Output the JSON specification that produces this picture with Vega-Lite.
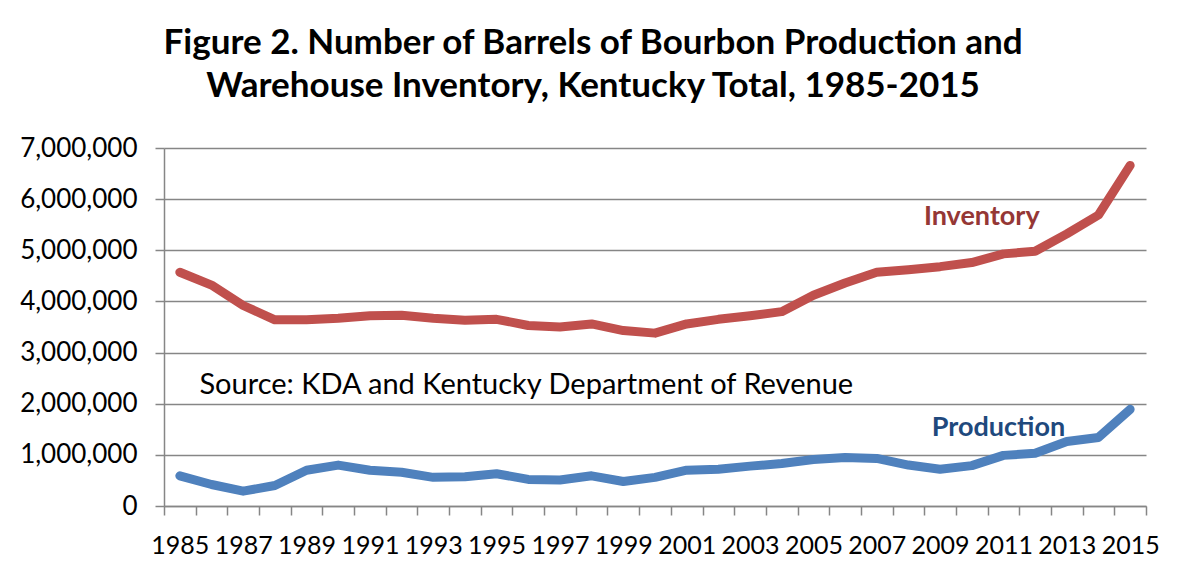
{
  "$schema": "https://vega.github.io/schema/vega-lite/v6.json",
  "autosize": "none",
  "width": 982,
  "height": 358,
  "padding": {"left": 164, "top": 148, "right": 39, "bottom": 71},
  "background": "white",
  "config": {"view": {"stroke": null}, "font": "Lato"},
  "title": {
    "text": ["Figure 2. Number of Barrels of Bourbon Production and", "Warehouse Inventory, Kentucky Total, 1985-2015"],
    "font": "Lato", "fontWeight": "bold", "fontSize": 35, "lineHeight": 43, "color": "#000000",
    "anchor": "middle", "frame": "group", "dx": -62, "offset": 31
  },
  "layer": [
    {
      "data": {"values": [
        {"year": 1985, "series": "Inventory", "value": 4570000},
        {"year": 1986, "series": "Inventory", "value": 4320000},
        {"year": 1987, "series": "Inventory", "value": 3920000},
        {"year": 1988, "series": "Inventory", "value": 3640000},
        {"year": 1989, "series": "Inventory", "value": 3640000},
        {"year": 1990, "series": "Inventory", "value": 3670000},
        {"year": 1991, "series": "Inventory", "value": 3720000},
        {"year": 1992, "series": "Inventory", "value": 3730000},
        {"year": 1993, "series": "Inventory", "value": 3670000},
        {"year": 1994, "series": "Inventory", "value": 3630000},
        {"year": 1995, "series": "Inventory", "value": 3650000},
        {"year": 1996, "series": "Inventory", "value": 3530000},
        {"year": 1997, "series": "Inventory", "value": 3500000},
        {"year": 1998, "series": "Inventory", "value": 3560000},
        {"year": 1999, "series": "Inventory", "value": 3430000},
        {"year": 2000, "series": "Inventory", "value": 3380000},
        {"year": 2001, "series": "Inventory", "value": 3560000},
        {"year": 2002, "series": "Inventory", "value": 3650000},
        {"year": 2003, "series": "Inventory", "value": 3720000},
        {"year": 2004, "series": "Inventory", "value": 3800000},
        {"year": 2005, "series": "Inventory", "value": 4120000},
        {"year": 2006, "series": "Inventory", "value": 4360000},
        {"year": 2007, "series": "Inventory", "value": 4570000},
        {"year": 2008, "series": "Inventory", "value": 4620000},
        {"year": 2009, "series": "Inventory", "value": 4680000},
        {"year": 2010, "series": "Inventory", "value": 4760000},
        {"year": 2011, "series": "Inventory", "value": 4930000},
        {"year": 2012, "series": "Inventory", "value": 4980000},
        {"year": 2013, "series": "Inventory", "value": 5320000},
        {"year": 2014, "series": "Inventory", "value": 5690000},
        {"year": 2015, "series": "Inventory", "value": 6660000},
        {"year": 1985, "series": "Production", "value": 590000},
        {"year": 1986, "series": "Production", "value": 420000},
        {"year": 1987, "series": "Production", "value": 290000},
        {"year": 1988, "series": "Production", "value": 400000},
        {"year": 1989, "series": "Production", "value": 700000},
        {"year": 1990, "series": "Production", "value": 800000},
        {"year": 1991, "series": "Production", "value": 700000},
        {"year": 1992, "series": "Production", "value": 660000},
        {"year": 1993, "series": "Production", "value": 560000},
        {"year": 1994, "series": "Production", "value": 570000},
        {"year": 1995, "series": "Production", "value": 630000},
        {"year": 1996, "series": "Production", "value": 520000},
        {"year": 1997, "series": "Production", "value": 510000},
        {"year": 1998, "series": "Production", "value": 590000},
        {"year": 1999, "series": "Production", "value": 480000},
        {"year": 2000, "series": "Production", "value": 560000},
        {"year": 2001, "series": "Production", "value": 700000},
        {"year": 2002, "series": "Production", "value": 720000},
        {"year": 2003, "series": "Production", "value": 780000},
        {"year": 2004, "series": "Production", "value": 830000},
        {"year": 2005, "series": "Production", "value": 910000},
        {"year": 2006, "series": "Production", "value": 950000},
        {"year": 2007, "series": "Production", "value": 930000},
        {"year": 2008, "series": "Production", "value": 800000},
        {"year": 2009, "series": "Production", "value": 720000},
        {"year": 2010, "series": "Production", "value": 790000},
        {"year": 2011, "series": "Production", "value": 990000},
        {"year": 2012, "series": "Production", "value": 1030000},
        {"year": 2013, "series": "Production", "value": 1260000},
        {"year": 2014, "series": "Production", "value": 1340000},
        {"year": 2015, "series": "Production", "value": 1890000}
      ]},
      "mark": {"type": "line", "strokeWidth": 9, "strokeCap": "round", "strokeJoin": "round"},
      "encoding": {
        "x": {
          "field": "year", "type": "ordinal", "bandPosition": 0.5,
          "scale": {"type": "band", "paddingInner": 0, "paddingOuter": 0},
          "axis": {
            "title": null, "labelAngle": 0, "labelOverlap": false,
            "labelExpr": "datum.value % 2 == 1 ? datum.label : ''",
            "tickBand": "extent", "grid": false,
            "domainColor": "#868686", "domainWidth": 1.5,
            "tickColor": "#868686", "tickWidth": 1.5, "tickSize": 9,
            "labelFont": "Lato", "labelFontSize": 25, "labelColor": "#000000", "labelPadding": 18
          }
        },
        "y": {
          "field": "value", "type": "quantitative",
          "scale": {"domain": [0, 7000000], "nice": false},
          "axis": {
            "title": null, "values": [0, 1000000, 2000000, 3000000, 4000000, 5000000, 6000000, 7000000],
            "format": ",.0f", "grid": true, "gridColor": "#868686", "gridWidth": 1.5,
            "domainColor": "#868686", "domainWidth": 1.5,
            "tickColor": "#868686", "tickWidth": 1.5, "tickSize": 9,
            "labelFont": "Lato", "labelFontSize": 26, "labelColor": "#000000", "labelPadding": 18
          }
        },
        "color": {
          "field": "series", "type": "nominal",
          "scale": {"domain": ["Inventory", "Production"], "range": ["#C0504D", "#4F81BD"]},
          "legend": null
        }
      }
    },
    {
      "data": {"values": [
        {"year": 2010, "value": 5500000, "label": "Inventory", "series": "Inventory"}
      ]},
      "mark": {"type": "text", "font": "Lato", "fontWeight": "bold", "fontSize": 27, "align": "center", "baseline": "alphabetic", "dx": 10, "color": "#953735"},
      "encoding": {
        "x": {"field": "year", "type": "ordinal", "bandPosition": 0.5},
        "y": {"field": "value", "type": "quantitative"},
        "text": {"field": "label"}
      }
    },
    {
      "data": {"values": [
        {"year": 2011, "value": 1370000, "label": "Production", "series": "Production"}
      ]},
      "mark": {"type": "text", "font": "Lato", "fontWeight": "bold", "fontSize": 27, "align": "center", "baseline": "alphabetic", "dx": -5, "color": "#1F497D"},
      "encoding": {
        "x": {"field": "year", "type": "ordinal", "bandPosition": 0.5},
        "y": {"field": "value", "type": "quantitative"},
        "text": {"field": "label"}
      }
    },
    {
      "data": {"values": [
        {"year": 1996, "value": 2190000, "label": "Source: KDA and Kentucky Department of Revenue"}
      ]},
      "mark": {"type": "text", "font": "Lato", "fontSize": 29, "align": "center", "baseline": "alphabetic", "dx": -2, "color": "#000000"},
      "encoding": {
        "x": {"field": "year", "type": "ordinal", "bandPosition": 0.5},
        "y": {"field": "value", "type": "quantitative"},
        "text": {"field": "label"}
      }
    }
  ]
}
